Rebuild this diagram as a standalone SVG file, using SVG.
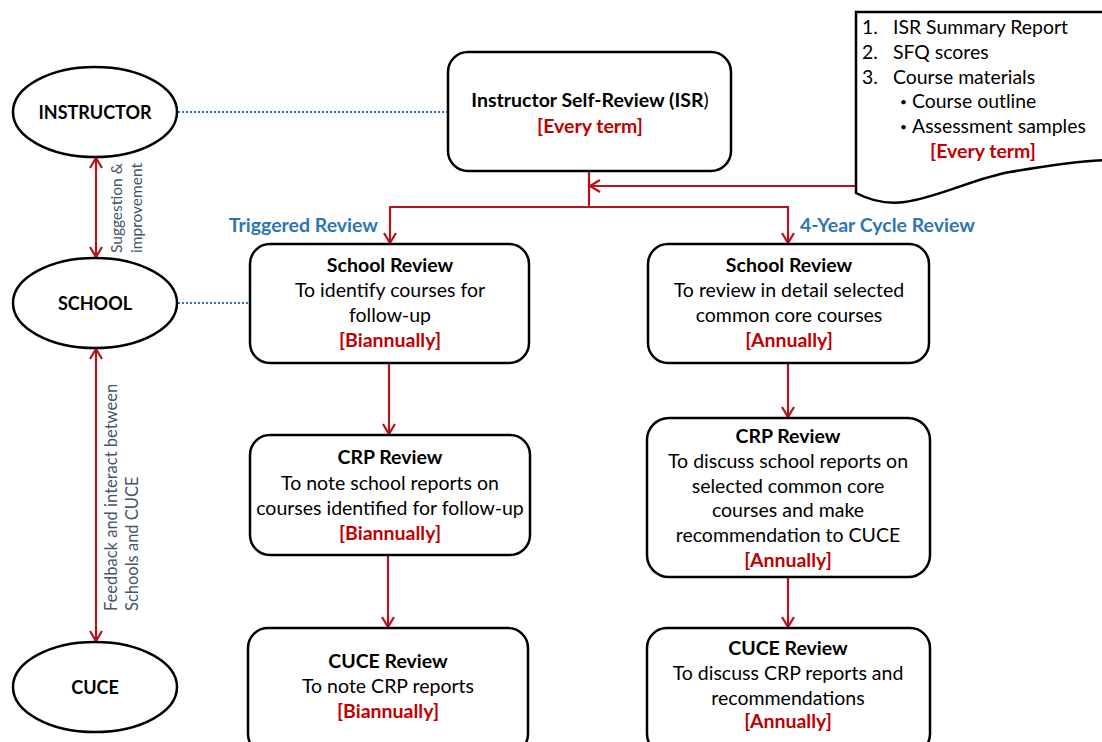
<svg xmlns="http://www.w3.org/2000/svg" width="1102" height="742" viewBox="0 0 1102 742">
  <defs>
    <marker id="chev" viewBox="0 0 12 14" refX="11" refY="7" markerWidth="12" markerHeight="14" markerUnits="userSpaceOnUse" orient="auto-start-reverse">
      <path d="M1,1 L11,7 L1,13" fill="none" stroke="#B5121B" stroke-width="2.2"/>
    </marker>
    <style>
      text { font-family: Lato, "Liberation Sans", sans-serif; fill: #000; }
      .box { fill: #fff; stroke: #000; stroke-width: 2.5; }
      .actor { fill: #fff; stroke: #000; stroke-width: 2.5; }
      .actor-label { font-size: 18px; font-weight: bold; text-anchor: middle; }
      .title { font-size: 19.5px; font-weight: bold; text-anchor: middle; }
      .body { font-size: 19.5px; text-anchor: middle; }
      .freq { font-size: 19.5px; font-weight: bold; text-anchor: middle; fill: #C00000; }
      .list { font-size: 19.4px; }
      .bullet { font-size: 12px; }
      .branch { font-size: 19.5px; font-weight: bold; fill: #2E75B6; }
      .side { font-size: 16.5px; fill: #44546A; }
      .side-sm { font-size: 15.5px; fill: #44546A; }
      .flow { fill: none; stroke: #B5121B; stroke-width: 2.2; }
      .dot { fill: none; stroke: #2E75B6; stroke-width: 2.2; stroke-dasharray: 2 2; }
    </style>
  </defs>

  <rect width="1102" height="742" fill="#fff"/>

  <!-- connectors -->
  <g id="connectors">
    <line class="dot" x1="178" y1="112" x2="448" y2="112"/>
    <line class="dot" x1="178" y1="303" x2="250" y2="303"/>
    <line class="flow" x1="96" y1="158" x2="96" y2="257" marker-start="url(#chev)" marker-end="url(#chev)"/>
    <line class="flow" x1="96" y1="349" x2="96" y2="641" marker-start="url(#chev)" marker-end="url(#chev)"/>
    <polyline class="flow" points="589,171 589,207"/>
    <line class="flow" x1="856" y1="186" x2="590" y2="186" marker-end="url(#chev)"/>
    <polyline class="flow" points="390,207 390,243" marker-end="url(#chev)"/>
    <line class="flow" x1="389" y1="207" x2="789" y2="207"/>
    <polyline class="flow" points="788,207 788,243" marker-end="url(#chev)"/>
    <line class="flow" x1="389" y1="363" x2="389" y2="434" marker-end="url(#chev)"/>
    <line class="flow" x1="788" y1="363" x2="788" y2="417" marker-end="url(#chev)"/>
    <line class="flow" x1="388" y1="555" x2="388" y2="627" marker-end="url(#chev)"/>
    <line class="flow" x1="788" y1="577" x2="788" y2="627" marker-end="url(#chev)"/>
  </g>

  <!-- side labels -->
  <g id="side-labels">
    <text class="side-sm" transform="translate(122,253) rotate(-90)">Suggestion &amp;</text>
    <text class="side-sm" transform="translate(142,253) rotate(-90)">improvement</text>
    <text class="side" transform="translate(117,611) rotate(-90)">Feedback and interact between</text>
    <text class="side" transform="translate(138,611) rotate(-90)">Schools and CUCE</text>
  </g>

  <!-- branch labels -->
  <text class="branch" x="378" y="232" text-anchor="end">Triggered Review</text>
  <text class="branch" x="800" y="232">4-Year Cycle Review</text>

  <!-- actors -->
  <g id="instructor">
    <ellipse class="actor" cx="95" cy="112" rx="82" ry="45"/>
    <text class="actor-label" x="95" y="119">INSTRUCTOR</text>
  </g>
  <g id="school">
    <ellipse class="actor" cx="95" cy="303" rx="82" ry="45"/>
    <text class="actor-label" x="95" y="310">SCHOOL</text>
  </g>
  <g id="cuce">
    <ellipse class="actor" cx="95" cy="687" rx="82" ry="45"/>
    <text class="actor-label" x="95" y="694">CUCE</text>
  </g>

  <!-- instructor self-review -->
  <g id="isr">
    <rect class="box" x="448" y="52" width="283" height="119" rx="20"/>
    <text class="title" x="590" y="107">Instructor Self-Review (ISR<tspan font-weight="normal">)</tspan></text>
    <text class="freq" x="590" y="133">[Every term]</text>
  </g>

  <!-- input documents -->
  <g id="documents">
    <path class="box" d="M856,12 H1106 V160 C1080,161 1050,165 1010,172 C975,178 940,197 905,202 C890,204 875,203 856,193 Z"/>
    <text class="list" x="862" y="34">1.</text>
    <text class="list" x="893" y="34">ISR Summary Report</text>
    <text class="list" x="862" y="59">2.</text>
    <text class="list" x="893" y="59">SFQ scores</text>
    <text class="list" x="862" y="84">3.</text>
    <text class="list" x="893" y="84">Course materials</text>
    <text class="bullet" x="900" y="106">•</text>
    <text class="list" x="912" y="108">Course outline</text>
    <text class="bullet" x="900" y="131">•</text>
    <text class="list" x="912" y="133">Assessment samples</text>
    <text class="freq" x="983" y="158">[Every term]</text>
  </g>

  <!-- triggered review path -->
  <g id="school-review-triggered">
    <rect class="box" x="250" y="244" width="279" height="119" rx="20"/>
    <text class="title" x="390" y="272">School Review</text>
    <text class="body" x="390" y="297">To identify courses for</text>
    <text class="body" x="390" y="322">follow-up</text>
    <text class="freq" x="390" y="347">[Biannually]</text>
  </g>
  <g id="crp-review-triggered">
    <rect class="box" x="250" y="435" width="280" height="120" rx="20"/>
    <text class="title" x="390" y="464">CRP Review</text>
    <text class="body" x="390" y="490">To note school reports on</text>
    <text class="body" x="390" y="515">courses identified for follow-up</text>
    <text class="freq" x="390" y="540">[Biannually]</text>
  </g>
  <g id="cuce-review-triggered">
    <rect class="box" x="248" y="628" width="280" height="126" rx="20"/>
    <text class="title" x="388" y="668">CUCE Review</text>
    <text class="body" x="388" y="693">To note CRP reports</text>
    <text class="freq" x="388" y="718">[Biannually]</text>
  </g>

  <!-- 4-year cycle review path -->
  <g id="school-review-cycle">
    <rect class="box" x="648" y="244" width="281" height="119" rx="20"/>
    <text class="title" x="789" y="272">School Review</text>
    <text class="body" x="789" y="297">To review in detail selected</text>
    <text class="body" x="789" y="322">common core courses</text>
    <text class="freq" x="789" y="347">[Annually]</text>
  </g>
  <g id="crp-review-cycle">
    <rect class="box" x="647" y="418" width="283" height="159" rx="22"/>
    <text class="title" x="788" y="443">CRP Review</text>
    <text class="body" x="788" y="468">To discuss school reports on</text>
    <text class="body" x="788" y="493">selected common core</text>
    <text class="body" x="788" y="517">courses and make</text>
    <text class="body" x="788" y="542">recommendation to CUCE</text>
    <text class="freq" x="788" y="567">[Annually]</text>
  </g>
  <g id="cuce-review-cycle">
    <rect class="box" x="647" y="628" width="283" height="126" rx="20"/>
    <text class="title" x="788" y="655">CUCE Review</text>
    <text class="body" x="788" y="680">To discuss CRP reports and</text>
    <text class="body" x="788" y="705">recommendations</text>
    <text class="freq" x="788" y="728">[Annually]</text>
  </g>
</svg>
